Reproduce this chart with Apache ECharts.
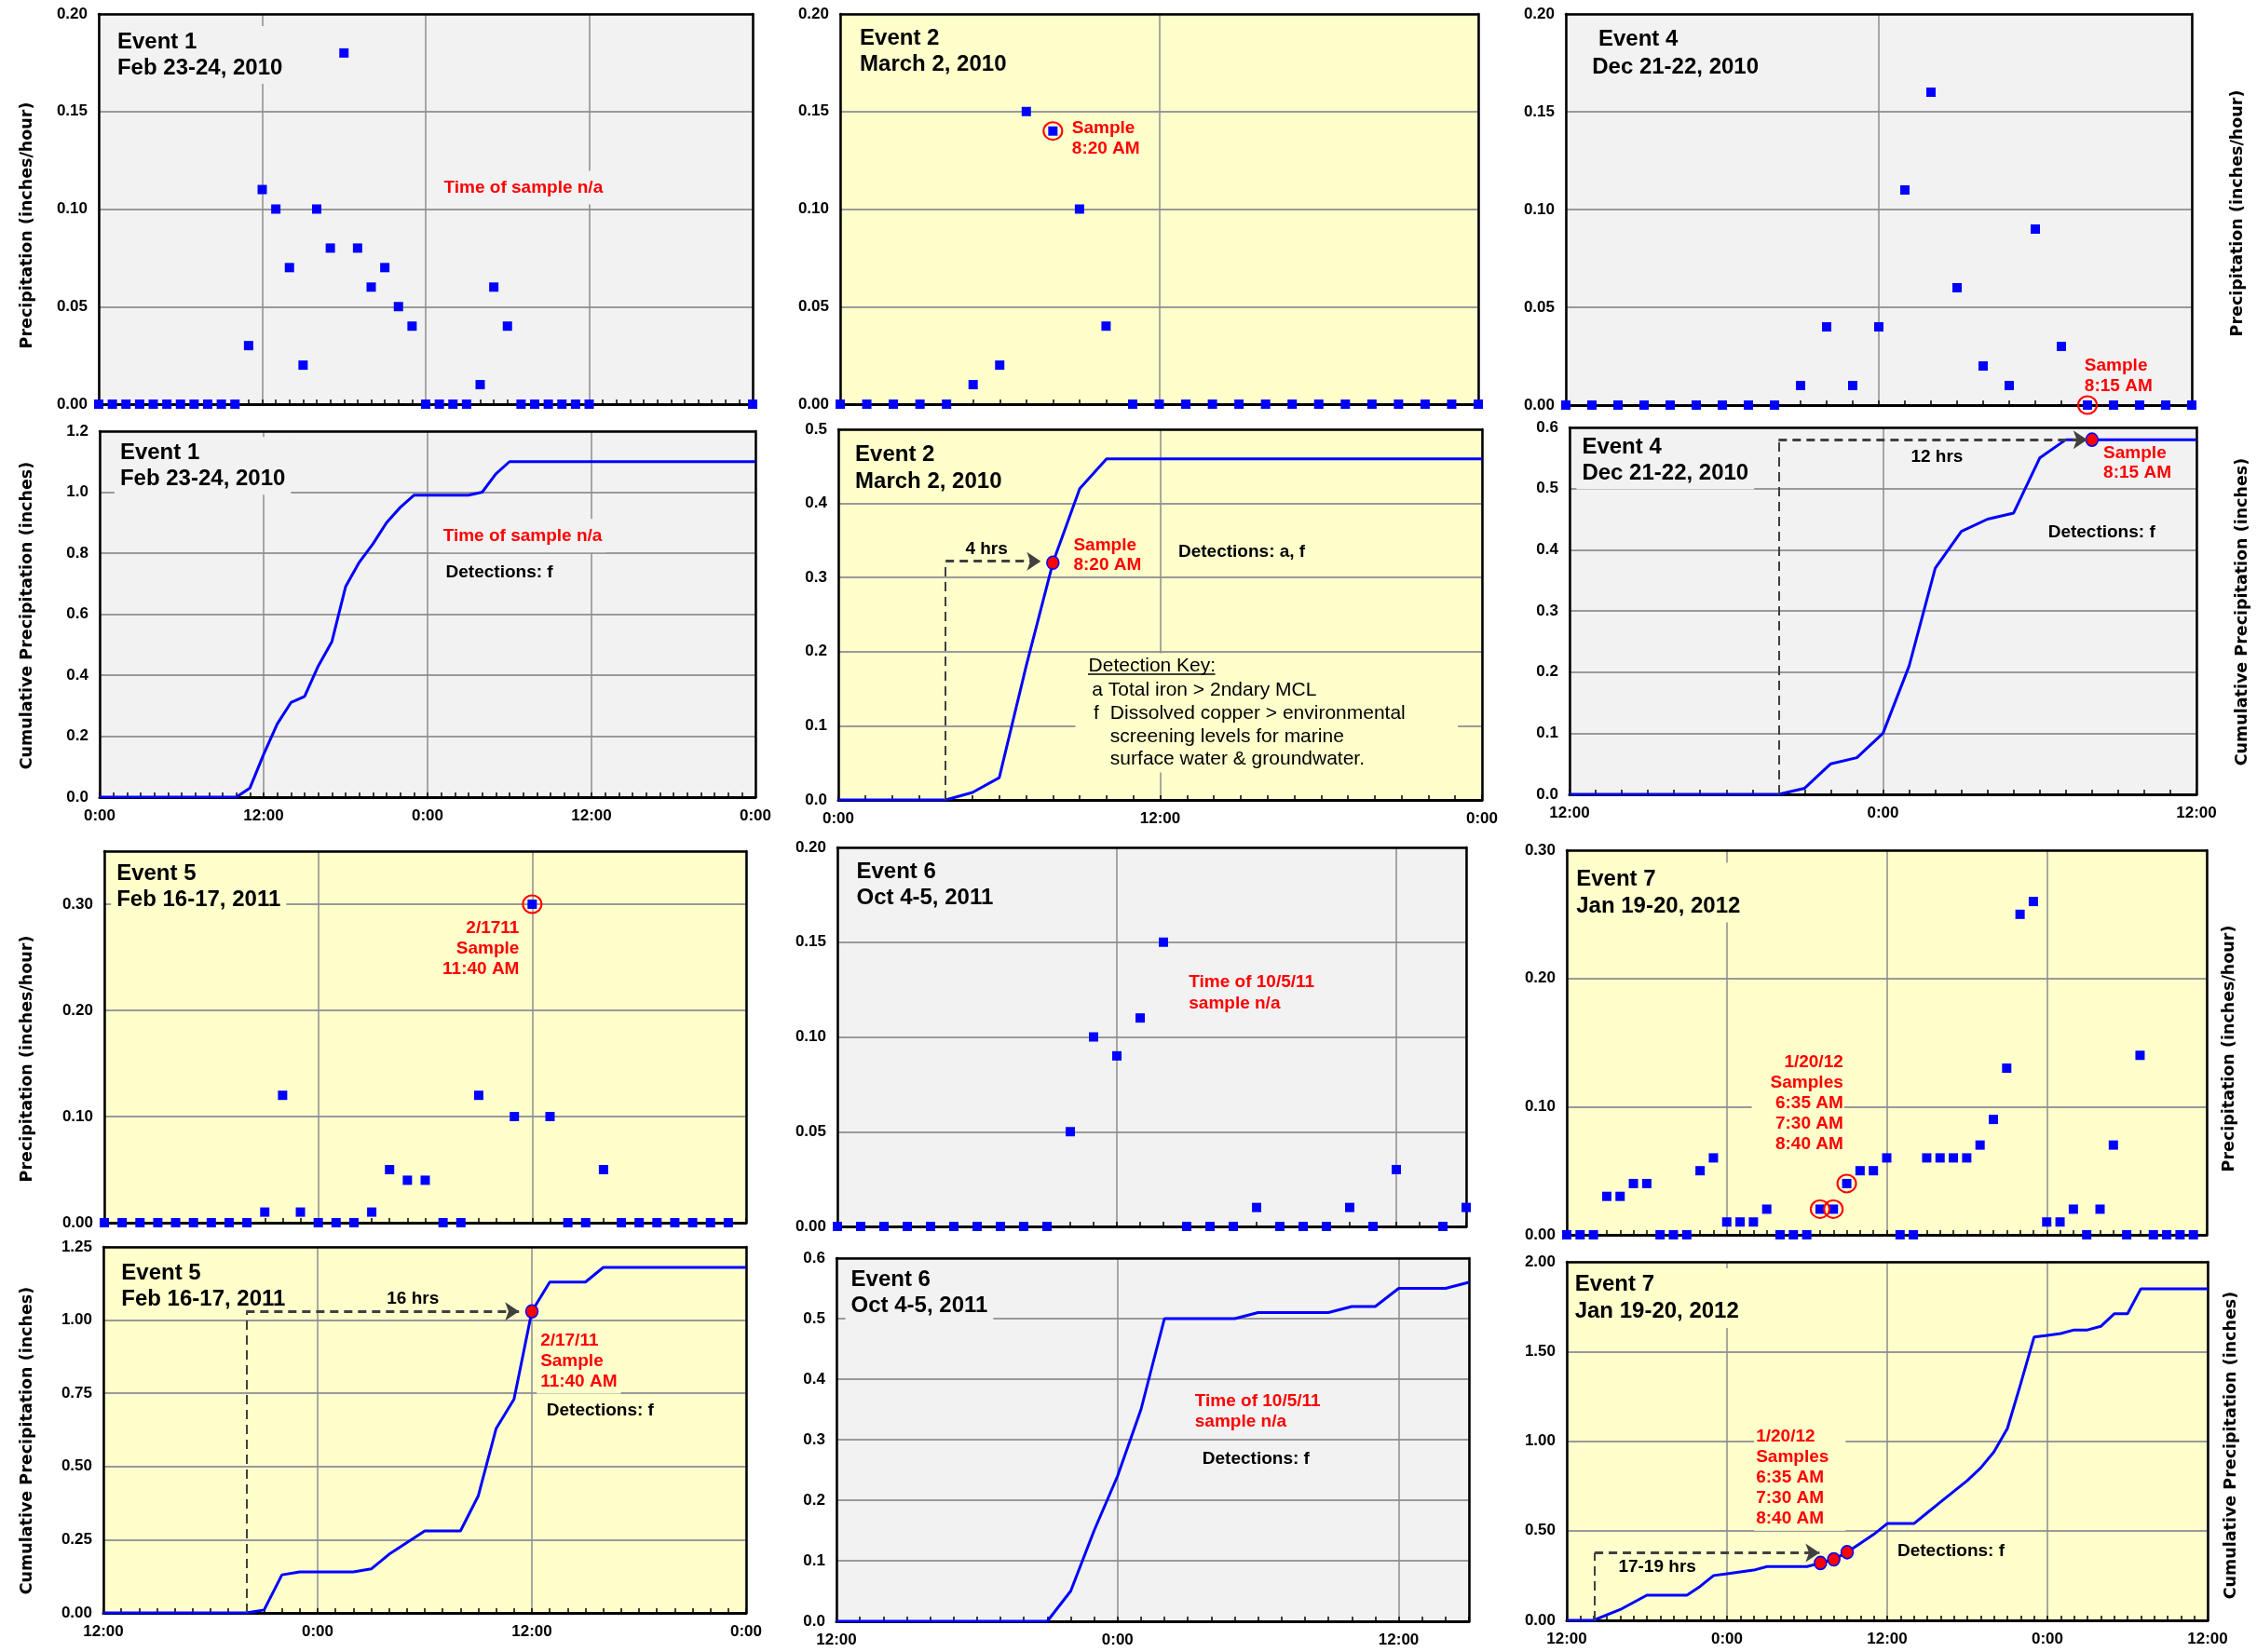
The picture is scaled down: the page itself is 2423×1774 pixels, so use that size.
<!DOCTYPE html>
<html>
<head>
<meta charset="utf-8">
<script src="https://cdn.jsdelivr.net/npm/echarts@6/dist/echarts.min.js"></script>
<style>
  html, body { margin: 0; padding: 0; background: #ffffff; }
  #chart { width: 2423px; height: 1774px; }
</style>
</head>
<body>
<div id="chart"></div>
<script>
// ---------------- Storm event data (hourly) ----------------
// Event 1, Feb 23-24, 2010 (hour 0 = 0:00 Feb 23)
const e1PrecipHours = [0,1,2,3,4,5,6,7,8,9,10,11,12,13,14,15,16,17,18,19,20,21,22,23,24,25,26,27,28,29,30,31,32,33,34,35,36,48];
const e1Precip = [0,0,0,0,0,0,0,0,0,0,0,0.03,0.11,0.10,0.07,0.02,0.10,0.08,0.18,0.08,0.06,0.07,0.05,0.04,0,0,0,0,0.01,0.06,0.04,0,0,0,0,0,0,0];
const e1CumHours = [0,1,2,3,4,5,6,7,8,9,10,11,12,13,14,15,16,17,18,19,20,21,22,23,24,25,26,27,28,29,30,31,32,33,34,35,36,37,38,39,40,41,42,43,44,45,46,47,48];
const e1Cum = [0,0,0,0,0,0,0,0,0,0,0,0.03,0.14,0.24,0.31,0.33,0.43,0.51,0.69,0.77,0.83,0.90,0.95,0.99,0.99,0.99,0.99,0.99,1.00,1.06,1.10,1.10,1.10,1.10,1.10,1.10,1.10,1.10,1.10,1.10,1.10,1.10,1.10,1.10,1.10,1.10,1.10,1.10,1.10];
const e1TimeLabels = ['0:00','12:00','0:00','12:00','0:00'];

// Event 2, March 2, 2010 (hour 0 = 0:00)
const e2Hours = [0,1,2,3,4,5,6,7,8,9,10,11,12,13,14,15,16,17,18,19,20,21,22,23,24];
const e2Precip = [0,0,0,0,0,0.01,0.02,0.15,0.14,0.10,0.04,0,0,0,0,0,0,0,0,0,0,0,0,0,0];
const e2Cum = [0,0,0,0,0,0.01,0.03,0.18,0.32,0.42,0.46,0.46,0.46,0.46,0.46,0.46,0.46,0.46,0.46,0.46,0.46,0.46,0.46,0.46,0.46];
const e2TimeLabels = ['0:00','12:00','0:00'];

// Event 4, Dec 21-22, 2010 (hour 0 = 12:00 Dec 21)
const e4Hours = [0,1,2,3,4,5,6,7,8,9,10,11,12,13,14,15,16,17,18,19,20,21,22,23,24];
const e4Precip = [0,0,0,0,0,0,0,0,0,0.01,0.04,0.01,0.04,0.11,0.16,0.06,0.02,0.01,0.09,0.03,0,0,0,0,0];
const e4Cum = [0,0,0,0,0,0,0,0,0,0.01,0.05,0.06,0.10,0.21,0.37,0.43,0.45,0.46,0.55,0.58,0.58,0.58,0.58,0.58,0.58];
const e4TimeLabels = ['12:00','0:00','12:00'];

// Event 5, Feb 16-17, 2011 (hour 0 = 12:00 Feb 16)
const e5PrecipHours = [0,1,2,3,4,5,6,7,8,9,10,11,12,13,14,15,16,17,18,19,20,21,22,23,24,25,26,27,28,29,30,31,32,33,34,35];
const e5Precip = [0,0,0,0,0,0,0,0,0,0.01,0.12,0.01,0,0,0,0.01,0.05,0.04,0.04,0,0,0.12,0.23,0.10,0.30,0.10,0,0,0.05,0,0,0,0,0,0,0];
const e5CumHours = [0,1,2,3,4,5,6,7,8,9,10,11,12,13,14,15,16,17,18,19,20,21,22,23,24,25,26,27,28,29,30,31,32,33,34,35,36];
const e5Cum = [0,0,0,0,0,0,0,0,0,0.01,0.13,0.14,0.14,0.14,0.14,0.15,0.20,0.24,0.28,0.28,0.28,0.40,0.63,0.73,1.03,1.13,1.13,1.13,1.18,1.18,1.18,1.18,1.18,1.18,1.18,1.18,1.18];
const e5TimeLabels = ['12:00','0:00','12:00','0:00'];

// Event 6, Oct 4-5, 2011 (hour 0 = 12:00 Oct 4)
const e6PrecipHours = [0,1,2,3,4,5,6,7,8,9,10,11,12,13,14,15,16,17,18,19,20,21,22,23,24,26,27];
const e6Precip = [0,0,0,0,0,0,0,0,0,0,0.05,0.10,0.09,0.11,0.15,0,0,0,0.01,0,0,0,0.01,0,0.03,0,0.01];
const e6CumHours = [0,1,2,3,4,5,6,7,8,9,10,11,12,13,14,15,16,17,18,19,20,21,22,23,24,25,26,27];
const e6Cum = [0,0,0,0,0,0,0,0,0,0,0.05,0.15,0.24,0.35,0.50,0.50,0.50,0.50,0.51,0.51,0.51,0.51,0.52,0.52,0.55,0.55,0.55,0.56];
const e6TimeLabels = ['12:00','0:00','12:00'];

// Event 7, Jan 19-20, 2012 (hour 0 = 12:00 Jan 19)
const e7PrecipHours = [0,1,2,3,4,5,6,7,8,9,10,11,12,13,14,15,16,17,18,19,20,21,22,23,24,25,26,27,28,29,30,31,32,33,34,35,36,37,38,39,40,41,42,43,44,45,46,47];
const e7Precip = [0,0,0,0.03,0.03,0.04,0.04,0,0,0,0.05,0.06,0.01,0.01,0.01,0.02,0,0,0,0.02,0.02,0.04,0.05,0.05,0.06,0,0,0.06,0.06,0.06,0.06,0.07,0.09,0.13,0.25,0.26,0.01,0.01,0.02,0,0.02,0.07,0,0.14,0,0,0,0];
const e7CumHours = [0,1,2,3,4,5,6,7,8,9,10,11,12,13,14,15,16,17,18,19,20,21,22,23,24,25,26,27,28,29,30,31,32,33,34,35,36,37,38,39,40,41,42,43,44,45,46,47,48];
const e7Cum = [0,0,0,0.03,0.06,0.10,0.14,0.14,0.14,0.14,0.19,0.25,0.26,0.27,0.28,0.30,0.30,0.30,0.30,0.32,0.34,0.38,0.43,0.48,0.54,0.54,0.54,0.60,0.66,0.72,0.78,0.85,0.94,1.07,1.32,1.58,1.59,1.60,1.62,1.62,1.64,1.71,1.71,1.85,1.85,1.85,1.85,1.85,1.85];
const e7TimeLabels = ['12:00','0:00','12:00','0:00','12:00'];

// Sample times (hour index of the sampled interval)
const e2SampleHour = 8;
const e4SampleHour = 20;
const e5SampleHour = 24;
const e7SampleHours = [19, 20, 21];

// ---------------- Styling helpers ----------------
const FONT = '"Liberation Sans", Arial, Helvetica, sans-serif';
const TITLE_FONT = '"DejaVu Sans", Verdana, sans-serif';
const GRAY = '#F2F2F2';
const YELLOW = '#FFFFCC';
const RED = '#FF0000';
const BLUE = '#0000FF';

function zip(xs, ys) { return xs.map((x, i) => [x, ys[i]]); }
function pointOf(xs, ys, h) { return [h, ys[xs.indexOf(h)]]; }

// Text annotation anchored in data space. anchor 'end' right-aligns at x.
function note(x, y, text, o) {
  o = o || {};
  const pad = o.pad || [2, 4, 2, 4];
  const toLeft = o.anchor === 'end';
  return {
    coord: [x, y], symbol: 'rect', symbolSize: 1,
    itemStyle: { color: 'rgba(0,0,0,0)' },
    label: {
      show: true,
      position: toLeft ? 'left' : 'right',
      distance: -(toLeft ? pad[1] : pad[3]),
      formatter: text,
      align: toLeft ? 'right' : 'left',
      verticalAlign: 'middle',
      color: o.color || '#000000',
      fontFamily: FONT,
      fontWeight: o.weight || 'bold',
      fontSize: o.size || 19,
      lineHeight: o.lh || 22,
      backgroundColor: o.bg || 'transparent',
      padding: pad
    }
  };
}
function title(x, y, text, bg, lh) {
  return note(x, y, text, { size: 24, lh: lh || 28, bg: bg, pad: [3, 6, 3, 6] });
}
function keyLine(x, y, text) {
  return note(x, y, text, { weight: 'normal', size: 21 });
}
function ring(pt) {
  return { coord: pt, symbol: 'circle', symbolSize: [20, 19],
    itemStyle: { color: 'rgba(0,0,0,0)', borderColor: RED, borderWidth: 2 }, label: { show: false } };
}
function dot(pt) {
  return { coord: pt, symbol: 'circle', symbolSize: [13, 14],
    itemStyle: { color: RED, borderColor: BLUE, borderWidth: 1.5 }, label: { show: false } };
}
// Dashed elapsed-time leader: vertical from the axis, then horizontal with an arrow head.
function leader(x0, y1, x1) {
  const dashV = { type: [10, 6], width: 2, color: '#404040' };
  const dashH = { type: [9, 6], width: 3, color: '#404040' };
  return [
    [{ coord: [x0, 0], symbol: 'none', lineStyle: dashV }, { coord: [x0, y1], symbol: 'none' }],
    [{ coord: [x0, y1], symbol: 'none', lineStyle: dashH }, { coord: [x1, y1], symbol: 'arrow', symbolSize: 15 }]
  ];
}

// ---------------- Panel definitions ----------------
const panels = [
  { box: [106, 15, 808, 434], bg: GRAY, xMax: 48, yMax: 0.20, yStep: 0.05, yDec: 2, kind: 'scatter',
    data: zip(e1PrecipHours, e1Precip), xLabels: null,
    points: [
      title(1.33, 0.179, 'Event 1\nFeb 23-24, 2010', GRAY),
      note(25.3, 0.111, 'Time of sample n/a', { color: RED, bg: GRAY, pad: [7, 4, 7, 4] })
    ] },
  { box: [902, 15, 1587, 434], bg: YELLOW, xMax: 24, yMax: 0.20, yStep: 0.05, yDec: 2, kind: 'scatter',
    data: zip(e2Hours, e2Precip), xLabels: null,
    points: [
      title(0.72, 0.1805, 'Event 2\nMarch 2, 2010', YELLOW),
      ring(pointOf(e2Hours, e2Precip, e2SampleHour)),
      note(8.7, 0.1362, 'Sample\n8:20 AM', { color: RED, bg: YELLOW, lh: 22 })
    ] },
  { box: [1681, 15, 2353, 435], bg: GRAY, xMax: 24, yMax: 0.20, yStep: 0.05, yDec: 2, kind: 'scatter',
    data: zip(e4Hours, e4Precip), xLabels: null,
    points: [
      title(1.23, 0.1868, 'Event 4', GRAY),
      title(0.99, 0.1728, 'Dec 21-22, 2010', GRAY),
      ring(pointOf(e4Hours, e4Precip, e4SampleHour)),
      note(19.87, 0.0149, 'Sample\n8:15 AM', { color: RED, lh: 22 })
    ] },
  { box: [107, 463, 811, 856], bg: GRAY, xMax: 48, yMax: 1.2, yStep: 0.2, yDec: 1, kind: 'line',
    data: zip(e1CumHours, e1Cum), xLabels: e1TimeLabels,
    points: [
      title(1.46, 1.0865, 'Event 1\nFeb 23-24, 2010', GRAY),
      note(25.1, 0.857, 'Time of sample n/a', { color: RED, bg: GRAY, pad: [7, 4, 7, 4] }),
      note(25.3, 0.738, 'Detections: f', { bg: GRAY })
    ] },
  { box: [900, 461, 1591, 859], bg: YELLOW, xMax: 24, yMax: 0.5, yStep: 0.1, yDec: 1, kind: 'line',
    data: zip(e2Hours, e2Cum), xLabels: e2TimeLabels,
    lines: leader(4, 0.322, 7.55).concat([
      [{ coord: [9.31, 0.1705], symbol: 'none', lineStyle: { type: 'solid', width: 1.5, color: '#000' } },
       { coord: [14.05, 0.1705], symbol: 'none' }]
    ]),
    areas: [[{ coord: [8.84, 0.198] }, { coord: [23.1, 0.037] }]],
    points: [
      title(0.61, 0.4478, 'Event 2\nMarch 2, 2010', YELLOW, 29),
      note(4.72, 0.338, '4 hrs'),
      dot(pointOf(e2Hours, e2Cum, e2SampleHour)),
      note(8.75, 0.3306, 'Sample\n8:20 AM', { color: RED, bg: YELLOW, lh: 21, pad: [2, 3, 2, 2] }),
      note(12.66, 0.335, 'Detections: a, f', { bg: YELLOW }),
      keyLine(9.31, 0.181, 'Detection Key:'),
      keyLine(9.44, 0.148, 'a Total iron > 2ndary MCL'),
      keyLine(9.5, 0.1164, 'f'),
      keyLine(10.12, 0.1164, 'Dissolved copper > environmental'),
      keyLine(10.12, 0.085, 'screening levels for marine'),
      keyLine(10.12, 0.0544, 'surface water & groundwater.')
    ] },
  { box: [1685, 459, 2358, 853], bg: GRAY, xMax: 24, yMax: 0.6, yStep: 0.1, yDec: 1, kind: 'line',
    data: zip(e4Hours, e4Cum), xLabels: e4TimeLabels,
    lines: leader(8, 0.58, 19.82),
    points: [
      title(0.46, 0.546, 'Event 4\nDec 21-22, 2010', GRAY),
      note(13.05, 0.552, '12 hrs'),
      dot(pointOf(e4Hours, e4Cum, e4SampleHour)),
      note(20.42, 0.541, 'Sample\n8:15 AM', { color: RED, lh: 21, pad: [1, 2, 1, 2] }),
      note(18.3, 0.428, 'Detections: f', { bg: GRAY })
    ] },
  { box: [112, 914, 801, 1313], bg: YELLOW, xMax: 36, yMax: 0.35, yStep: 0.1, yDec: 2, kind: 'scatter',
    data: zip(e5PrecipHours, e5Precip), xLabels: null, hideMaxLabel: true,
    points: [
      title(0.66, 0.316, 'Event 5\nFeb 16-17, 2011', YELLOW),
      ring(pointOf(e5PrecipHours, e5Precip, e5SampleHour)),
      note(23.3, 0.2581, '2/1711\nSample\n11:40 AM', { color: RED, bg: YELLOW, lh: 22, anchor: 'end', pad: [2, 2, 9, 4] })
    ] },
  { box: [899, 910, 1574, 1317], bg: GRAY, xMax: 27, yMax: 0.20, yStep: 0.05, yDec: 2, kind: 'scatter',
    data: zip(e6PrecipHours, e6Precip), xLabels: null,
    points: [
      title(0.8, 0.18, 'Event 6\nOct 4-5, 2011', GRAY),
      note(15.07, 0.123, 'Time of 10/5/11\nsample n/a', { color: RED, bg: GRAY, lh: 23 })
    ] },
  { box: [1682, 913, 2369, 1326], bg: YELLOW, xMax: 48, yMax: 0.30, yStep: 0.10, yDec: 2, kind: 'scatter',
    data: zip(e7PrecipHours, e7Precip), xLabels: null,
    points: [
      title(0.68, 0.2669, 'Event 7\nJan 19-20, 2012', YELLOW, 29),
      ring(pointOf(e7PrecipHours, e7Precip, e7SampleHours[0])),
      ring(pointOf(e7PrecipHours, e7Precip, e7SampleHours[1])),
      ring(pointOf(e7PrecipHours, e7Precip, e7SampleHours[2])),
      note(20.77, 0.1028, '1/20/12\nSamples\n6:35 AM\n7:30 AM\n8:40 AM', { color: RED, bg: YELLOW, lh: 22, anchor: 'end', pad: [2, 1, 2, 20] })
    ] },
  { box: [111, 1339, 801, 1732], bg: YELLOW, xMax: 36, yMax: 1.25, yStep: 0.25, yDec: 2, kind: 'line',
    data: zip(e5CumHours, e5Cum), xLabels: e5TimeLabels,
    lines: leader(8, 1.03, 23.28),
    points: [
      title(0.98, 1.114, 'Event 5\nFeb 16-17, 2011', YELLOW),
      note(15.85, 1.072, '16 hrs'),
      dot(pointOf(e5CumHours, e5Cum, e5SampleHour)),
      note(24.45, 0.86, '2/17/11\nSample\n11:40 AM', { color: RED, bg: YELLOW, lh: 22 }),
      note(24.8, 0.69, 'Detections: f', { bg: YELLOW })
    ] },
  { box: [898, 1351, 1577, 1741], bg: GRAY, xMax: 27, yMax: 0.6, yStep: 0.1, yDec: 1, kind: 'line',
    data: zip(e6CumHours, e6Cum), xLabels: e6TimeLabels,
    points: [
      title(0.6, 0.5427, 'Event 6\nOct 4-5, 2011', GRAY),
      note(15.28, 0.346, 'Time of 10/5/11\nsample n/a', { color: RED, bg: GRAY, lh: 22 }),
      note(15.6, 0.268, 'Detections: f', { bg: GRAY })
    ] },
  { box: [1682, 1355, 2370, 1740], bg: YELLOW, xMax: 48, yMax: 2.0, yStep: 0.5, yDec: 2, kind: 'line',
    data: zip(e7CumHours, e7Cum), xLabels: e7TimeLabels,
    lines: leader(2.1, 0.376, 18.93),
    points: [
      title(0.57, 1.797, 'Event 7\nJan 19-20, 2012', YELLOW, 29),
      note(3.83, 0.298, '17-19 hrs'),
      dot(pointOf(e7CumHours, e7Cum, e7SampleHours[0])),
      dot(pointOf(e7CumHours, e7Cum, e7SampleHours[1])),
      dot(pointOf(e7CumHours, e7Cum, e7SampleHours[2])),
      note(14.14, 0.7965, '1/20/12\nSamples\n6:35 AM\n7:30 AM\n8:40 AM', { color: RED, bg: YELLOW, lh: 22, pad: [2, 18, 2, 2] }),
      note(24.73, 0.387, 'Detections: f', { bg: YELLOW })
    ] }
];

// Rotated axis titles (left column and right column)
const axisTitles = [
  { x: 29, y: 242, text: 'Precipitation (inches/hour)' },
  { x: 29, y: 661, text: 'Cumulative Precipitation (inches)' },
  { x: 29, y: 1137, text: 'Precipitation (inches/hour)' },
  { x: 29, y: 1547, text: 'Cumulative Precipitation (inches)' },
  { x: 2402, y: 229, text: 'Precipitation (inches/hour)' },
  { x: 2407, y: 657, text: 'Cumulative Precipitation (inches)' },
  { x: 2393, y: 1126, text: 'Precipitation (inches/hour)' },
  { x: 2395, y: 1552, text: 'Cumulative Precipitation (inches)' }
];

// ---------------- Build option ----------------
const grid = [], xAxis = [], yAxis = [], series = [];
const tickFont = { fontFamily: FONT, fontWeight: 'bold', fontSize: 17, color: '#000' };

panels.forEach((p, i) => {
  const [l, t, r, b] = p.box;
  grid.push({ left: l, top: t, width: r - l, height: b - t, show: true,
    backgroundColor: p.bg, borderWidth: 0, containLabel: false, outerBoundsMode: 'none' });

  const xi = xAxis.length, yi = yAxis.length;
  // bottom time axis: hourly ticks, labels every 12 h
  xAxis.push({ gridIndex: i, type: 'value', min: 0, max: p.xMax, interval: 1, position: 'bottom', z: 1,
    axisLine: { show: true, onZero: false, lineStyle: { color: '#000', width: 3 } },
    axisTick: { show: true, inside: true, length: 5, lineStyle: { color: '#000', width: 1.5 } },
    axisLabel: Object.assign({ show: !!p.xLabels, margin: 12, showMaxLabel: true, showMinLabel: true,
      formatter: v => (p.xLabels && v % 12 === 0) ? p.xLabels[v / 12] : '' }, tickFont),
    splitLine: { show: false } });
  // vertical gridlines every 12 h
  xAxis.push({ gridIndex: i, type: 'value', min: 0, max: p.xMax, interval: 12, z: 0,
    axisLine: { show: false }, axisTick: { show: false }, axisLabel: { show: false },
    splitLine: { show: true, lineStyle: { color: '#8C8C8C', width: 1.5 } } });
  // top frame
  xAxis.push({ gridIndex: i, type: 'value', min: 0, max: p.xMax, position: 'top', z: 1,
    axisLine: { show: true, onZero: false, lineStyle: { color: '#000', width: 2.5 } },
    axisTick: { show: false }, axisLabel: { show: false }, splitLine: { show: false } });

  // left value axis
  yAxis.push({ gridIndex: i, type: 'value', min: 0, max: p.yMax, interval: p.yStep, position: 'left', z: 1,
    axisLine: { show: true, onZero: false, lineStyle: { color: '#000', width: 2.5 } },
    axisTick: { show: false },
    axisLabel: Object.assign({ margin: 12, showMaxLabel: !p.hideMaxLabel,
      formatter: v => v.toFixed(p.yDec) }, tickFont),
    splitLine: { show: false } });
  // horizontal gridlines
  yAxis.push({ gridIndex: i, type: 'value', min: 0, max: p.yMax, interval: p.yStep, z: 0,
    axisLine: { show: false }, axisTick: { show: false }, axisLabel: { show: false },
    splitLine: { show: true, lineStyle: { color: '#9A9A9A', width: 2 } } });
  // right frame
  yAxis.push({ gridIndex: i, type: 'value', min: 0, max: p.yMax, position: 'right', z: 1,
    axisLine: { show: true, onZero: false, lineStyle: { color: '#000', width: 2.5 } },
    axisTick: { show: false }, axisLabel: { show: false }, splitLine: { show: false } });

  const s = {
    type: p.kind, xAxisIndex: xi, yAxisIndex: yi, data: p.data, silent: true, animation: false, z: 2,
    markPoint: { silent: true, animation: false, z: 5, data: p.points || [] }
  };
  if (p.kind === 'scatter') {
    Object.assign(s, { symbol: 'rect', symbolSize: 10, itemStyle: { color: BLUE, opacity: 1 } });
  } else {
    Object.assign(s, { showSymbol: false, symbol: 'none', lineStyle: { color: BLUE, width: 3, opacity: 1 } });
  }
  if (p.lines) {
    s.markLine = { silent: true, animation: false, z: 6, symbol: ['none', 'none'],
      label: { show: false }, data: p.lines };
  }
  if (p.areas) {
    s.markArea = { silent: true, animation: false, z: 1, itemStyle: { color: p.bg, opacity: 1 }, data: p.areas };
  }
  series.push(s);
});

const graphic = axisTitles.map(a => ({
  type: 'text', x: a.x, y: a.y, rotation: Math.PI / 2, silent: true,
  style: { text: a.text, fontFamily: TITLE_FONT, fontWeight: 'bold', fontSize: 17.5,
    fill: '#000', align: 'center', verticalAlign: 'middle' }
}));

const chart = echarts.init(document.getElementById('chart'), null, { renderer: 'canvas' });
chart.setOption({
  backgroundColor: '#ffffff',
  animation: false,
  grid, xAxis, yAxis, series, graphic
});
</script>
</body>
</html>
